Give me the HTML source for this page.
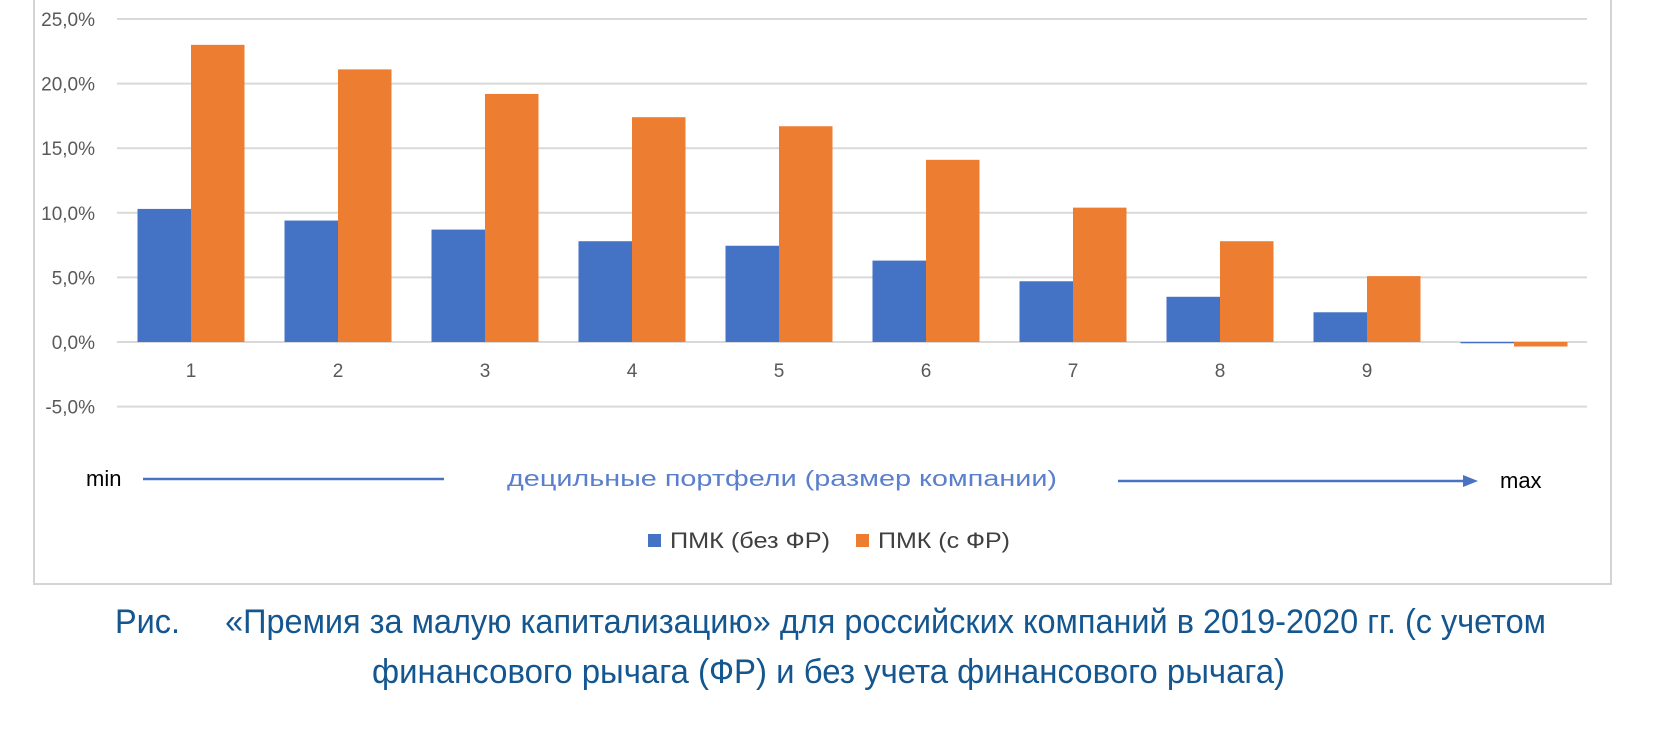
<!DOCTYPE html>
<html><head><meta charset="utf-8"><style>
html,body{margin:0;padding:0;background:#fff;}
svg{display:block;font-family:"Liberation Sans Narrow","Liberation Sans","DejaVu Sans Condensed",sans-serif;}
</style></head><body>
<svg id="chart" width="1680" height="735" viewBox="0 0 1680 735" xmlns="http://www.w3.org/2000/svg">
<rect x="34" y="-2" width="1577" height="586" fill="#fff" stroke="#d4d4d4" stroke-width="2"/>
<g id="grid"></g>
<g id="yticks"></g>
<g id="bars"></g>
<g id="xticks"></g>
<text x="86" y="486" font-size="22" fill="#000" font-family="Liberation Sans, sans-serif">min</text>
<line x1="143" y1="479" x2="444" y2="479" stroke="#4a72c4" stroke-width="2.5"/>
<text x="507" y="486" font-size="22" fill="#5a7fcc" textLength="550" lengthAdjust="spacingAndGlyphs" font-family="Liberation Sans, sans-serif">децильные портфели (размер компании)</text>
<line x1="1118" y1="481" x2="1465" y2="481" stroke="#4a72c4" stroke-width="2.5"/>
<polygon points="1463,475 1478,481 1463,487" fill="#4a72c4"/>
<text x="1500" y="488" font-size="22" fill="#000" font-family="Liberation Sans, sans-serif">max</text>
<g>
<rect x="648" y="534" width="13" height="13" fill="#4472c4"/>
<text x="670" y="548" font-size="22" fill="#404040" textLength="160" lengthAdjust="spacingAndGlyphs">ПМК (без ФР)</text>
<rect x="856" y="534" width="13" height="13" fill="#ed7d31"/>
<text x="878" y="548" font-size="22" fill="#404040" textLength="132" lengthAdjust="spacingAndGlyphs">ПМК (с ФР)</text>
</g>
<text x="115" y="633" font-size="34" fill="#14568f" textLength="1431" lengthAdjust="spacingAndGlyphs">Рис.&#160;&#160;&#160;&#160;&#160;«Премия за малую капитализацию» для российских компаний в 2019-2020 гг. (с учетом</text>
<text x="372" y="683" font-size="34" fill="#14568f" textLength="913" lengthAdjust="spacingAndGlyphs">финансового рычага (ФР) и без учета финансового рычага)</text>
</svg>
<script>
const categories = ["1","2","3","4","5","6","7","8","9",""];
const seriesNoLeverage = [10.3, 9.4, 8.7, 7.8, 7.45, 6.3, 4.7, 3.5, 2.3, -0.1];
const seriesLeverage = [23.0, 21.1, 19.2, 17.4, 16.7, 14.1, 10.4, 7.8, 5.1, -0.35];
const yTicks = [25, 20, 15, 10, 5, 0, -5];
const yTickLabels = ["25,0%","20,0%","15,0%","10,0%","5,0%","0,0%","-5,0%"];

const NS = "http://www.w3.org/2000/svg";
const y0 = 342, pxPer = 12.92;
function yScale(v){ return y0 - v * pxPer; }
function xCenter(i){ return 191 + i * 147; }
const barW = 53.5;
function mk(tag, attrs, parent){
  const e = document.createElementNS(NS, tag);
  for (const k in attrs) e.setAttribute(k, attrs[k]);
  parent.appendChild(e);
  return e;
}
const grid = document.getElementById('grid');
const yt = document.getElementById('yticks');
yTicks.forEach((t, i) => {
  const l = mk('line', {x1:117, x2:1587, y1:yScale(t), y2:yScale(t), stroke:'#d9d9d9', 'stroke-width':2}, grid);
  
  
  const tx = mk('text', {x:95, y:yScale(t)+7, 'font-size':19, fill:'#595959', 'text-anchor':'end'}, yt);
  tx.textContent = yTickLabels[i];
  
  
});
const bars = document.getElementById('bars');
const xt = document.getElementById('xticks');
categories.forEach((c, i) => {
  const cx = xCenter(i);
  const v1 = seriesNoLeverage[i], v2 = seriesLeverage[i];
  const b1 = mk('rect', {x:cx-barW, y:Math.min(yScale(v1), y0), width:barW, height:Math.max(Math.abs(yScale(v1)-y0), 1), fill:'#4472c4'}, bars);
  
  
  const b2 = mk('rect', {x:cx, y:Math.min(yScale(v2), y0), width:barW, height:Math.max(Math.abs(yScale(v2)-y0), 1), fill:'#ed7d31'}, bars);
  
  
  const tx = mk('text', {x:cx, y:377, 'font-size':19, fill:'#595959', 'text-anchor':'middle'}, xt);
  tx.textContent = c;
  
  
});
</script>
</body></html>
